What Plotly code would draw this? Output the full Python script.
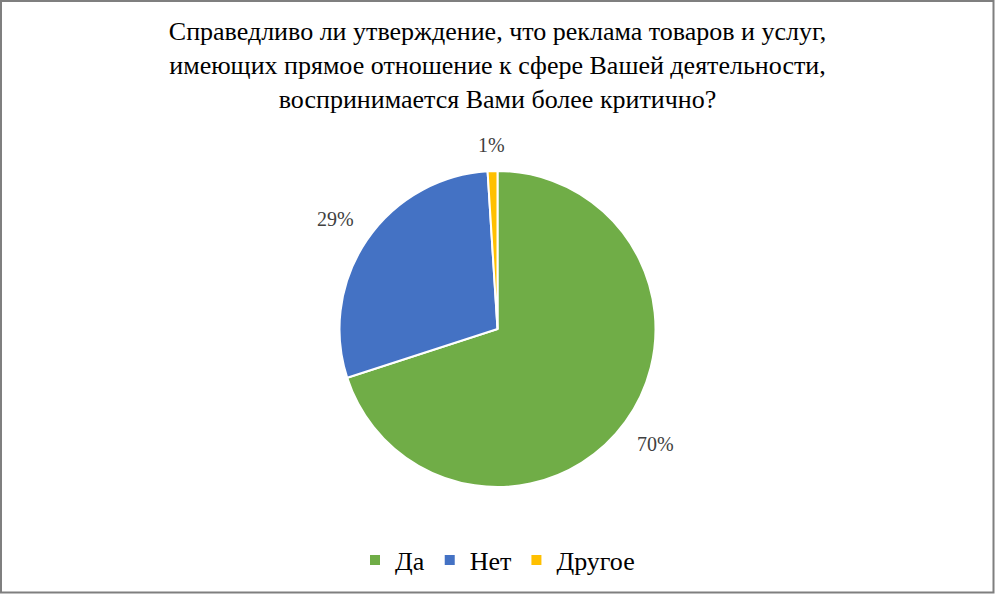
import math
import plotly.graph_objects as go

# answers and their shares (%)
labels = ["Да", "Нет", "Другое"]
values = [70, 29, 1]
colors = ["#70AD47", "#4472C4", "#FFC000"]

title_lines = ["Справедливо ли утверждение, что реклама товаров и услуг,",
               "имеющих прямое отношение к сфере Вашей деятельности,",
               "воспринимается Вами более критично?"]

serif = "Liberation Serif"

W, H = 995, 594
m_top, m_bot, m_left, m_right = 171, 107, 0, 0
plot_w = W - m_left - m_right
plot_h = H - m_top - m_bot
R = min(plot_w, plot_h) / 2


def px_x(x):
    return (x - m_left) / plot_w


def px_y(y):
    return (H - m_bot - y) / plot_h


fig = go.Figure(go.Pie(
    labels=labels,
    values=values,
    sort=False,
    direction="clockwise",
    rotation=0,
    marker=dict(colors=colors, line=dict(color="white", width=2)),
    textinfo="none",
    hoverinfo="label+percent",
))

# percent labels placed outside the slices, at each slice's mid angle
total = sum(values)
cum = 0
for v in values:
    mid = (cum + v / 2) / total * 2 * math.pi
    cum += v
    s, c = math.sin(mid), math.cos(mid)
    dist = R + 16 + abs(s) * 20 + abs(c) * 9
    fig.add_annotation(
        x=0.5 + dist * s / plot_w, y=0.5 + dist * c / plot_h,
        xref="paper", yref="paper", showarrow=False,
        text=f"{round(v / total * 100)}%",
        font=dict(family=serif, size=20, color="#404040"),
        xanchor="center", yanchor="middle",
    )

fig.update_layout(
    width=W, height=H,
    margin=dict(t=m_top, b=m_bot, l=m_left, r=m_right, autoexpand=False),
    paper_bgcolor="white",
    font=dict(family=serif, color="#000000"),
    title=dict(text="<br>".join(title_lines), x=0.5, xanchor="center", xref="paper",
               y=1 - 40 / H, yref="container", yanchor="top",
               font=dict(family=serif, size=26, color="#000000")),
    legend=dict(orientation="h", x=0.5, xanchor="center", y=px_y(560), yanchor="middle",
                font=dict(family=serif, size=26, color="#000000"),
                traceorder="normal"),
    shapes=[dict(type="rect", xref="paper", yref="paper",
                 x0=px_x(1), x1=px_x(W - 1.5),
                 y0=px_y(H - 1.5), y1=px_y(1),
                 line=dict(color="#7F7F7F", width=2))],
)

fig.write_html("out.html", config={"displayModeBar": False},
               post_script="document.body.style.margin = '0';")
